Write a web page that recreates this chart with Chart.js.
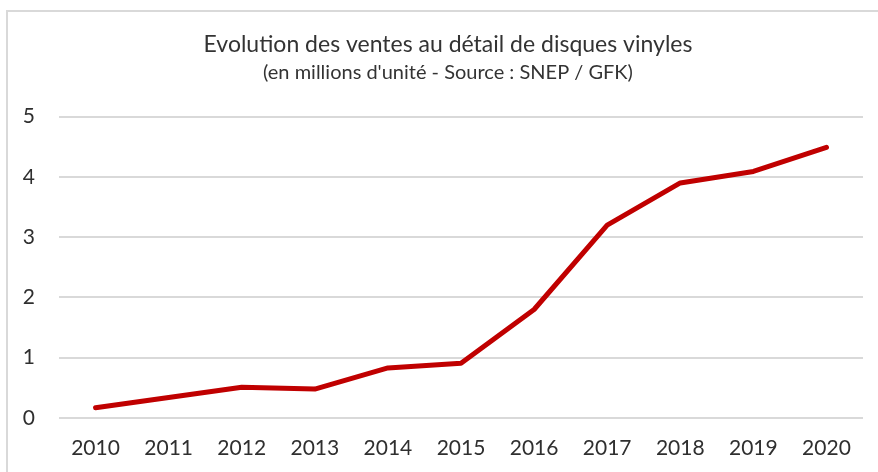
<!DOCTYPE html>
<html>
<head>
<meta charset="utf-8">
<script src="https://cdn.jsdelivr.net/npm/chart.js@4"></script>
<style>
html,body{margin:0;padding:0;background:#fff;}
#wrap{position:relative;width:878px;height:472px;}
</style>
</head>
<body>
<div id="wrap"><canvas id="c" width="878" height="472"></canvas></div>
<script>
const categories = ['2010','2011','2012','2013','2014','2015','2016','2017','2018','2019','2020'];
const ventes = [0.17, 0.34, 0.51, 0.48, 0.83, 0.91, 1.8, 3.2, 3.9, 4.09, 4.49];
const titleText = 'Evolution des ventes au détail de disques vinyles';
const subtitleText = "(en millions d'unité - Source : SNEP / GFK)";

const framePlugin = {
  id: 'frame',
  beforeDraw(chart) {
    const ctx = chart.ctx;
    ctx.save();
    ctx.fillStyle = '#fff';
    ctx.fillRect(0, 0, chart.width, chart.height);
    ctx.strokeStyle = '#d9d9d9';
    ctx.lineWidth = 2;
    ctx.beginPath();
    ctx.moveTo(7, chart.height);
    ctx.lineTo(7, 11);
    ctx.lineTo(chart.width, 11);
    ctx.stroke();
    ctx.restore();
  }
};

new Chart(document.getElementById('c'), {
  type: 'line',
  data: {
    labels: categories,
    datasets: [{
      data: ventes,
      yAxisID: 'y',
      borderColor: '#c00000',
      borderWidth: 5,
      pointRadius: 0,
      tension: 0,
      borderCapStyle: 'round',
      borderJoinStyle: 'round',
      fill: false
    }]
  },
  options: {
    responsive: false,
    animation: false,
    layout: { padding: { left: 18, right: 0, top: 0, bottom: 0 } },
    plugins: {
      legend: { display: false },
      tooltip: { enabled: false },
      title: {
        display: true,
        text: titleText,
        color: '#333333',
        font: { family: 'Lato', size: 23, weight: 'normal' },
        padding: { top: 31, bottom: 2 }
      },
      subtitle: {
        display: true,
        text: subtitleText,
        color: '#333333',
        font: { family: 'Lato', size: 20, weight: 'normal' },
        padding: { top: 0, bottom: 32 }
      }
    },
    scales: {
      x: {
        offset: true,
        grid: { display: false, drawTicks: false },
        border: { display: false },
        ticks: { color: '#2f2f2f', font: { family: 'Lato', size: 21 }, padding: 18, maxRotation: 0 },
        afterFit(s) { s.height = 54; }
      },
      y: {
        position: 'left',
        min: 0, max: 5,
        grid: { color: '#d9d9d9', lineWidth: 2, drawTicks: false },
        border: { display: false },
        ticks: { stepSize: 1, color: '#2f2f2f', font: { family: 'Lato', size: 21 }, padding: 24 },
        afterFit(s) { s.width = 41; }
      },
      y2: {
        position: 'right',
        display: true,
        min: 0, max: 5,
        grid: { display: false, drawTicks: false },
        border: { display: false },
        ticks: { display: false },
        afterFit(s) { s.width = 15; }
      }
    }
  },
  plugins: [framePlugin]
});
</script>
</body>
</html>
